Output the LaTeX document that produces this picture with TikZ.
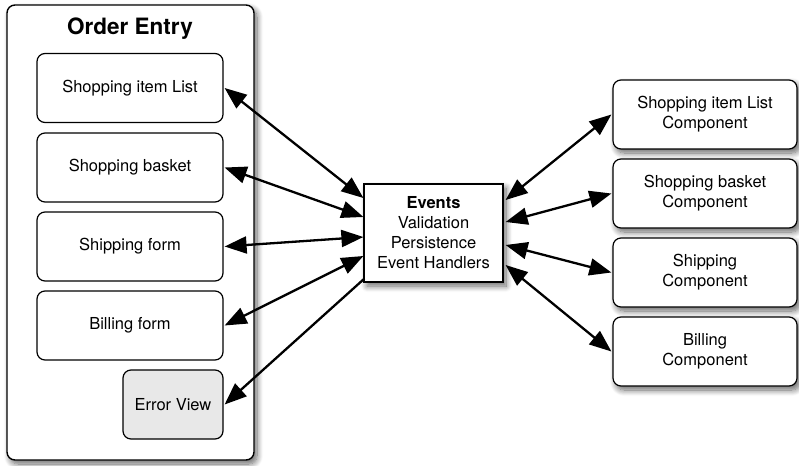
\documentclass[tikz,border=0pt]{standalone}
\usepackage{fontspec}
\setmainfont{TeX Gyre Heros}
\usetikzlibrary{arrows.meta,shadows.blur}
\begin{document}
\begin{tikzpicture}[x=1pt,y=-1pt,
  txt/.style={font=\fontsize{16.5}{20}\selectfont, align=center},
  softshadow/.style={blur shadow={shadow xshift=3pt, shadow yshift=-4pt,
    shadow blur radius=6pt, shadow blur steps=10, shadow opacity=60}},
  panel/.style={draw=black, line width=1.4pt, rounded corners=8pt, fill=white, softshadow},
  part/.style={txt, draw=black, line width=1.2pt, rounded corners=8pt, fill=white,
    minimum width=186pt, minimum height=69pt, inner sep=0pt},
  comp/.style={part, minimum width=184pt, softshadow},
  hub/.style={txt, draw=black, line width=1.2pt, fill=white,
    minimum width=139pt, minimum height=98pt, inner sep=0pt, softshadow},
  link/.style={line width=2.3pt, {Triangle[length=22pt,width=17pt]}-{Triangle[length=22pt,width=17pt]}},
  onelink/.style={line width=2.3pt, -{Triangle[length=22pt,width=17pt]}}
]
\useasboundingbox (0,0) rectangle (799,465);

% order entry panel
\node[panel, minimum width=247pt, minimum height=455pt, inner sep=0pt] (oe) at (130.5,232.5) {};
\node[font=\fontsize{22.5}{27}\selectfont\bfseries] (oet) at (130,29) {Order Entry};

\node[part] (sil) at (130,88) {Shopping item List};
\node[part] (sb)  at (130,167.5) {Shopping basket};
\node[part] (sf)  at (130,246.5) {Shipping form};
\node[part] (bf)  at (130,325.5) {Billing form};
\node[part, minimum width=100pt, fill=black!9] (erv) at (173,404.5) {Error View};

% event hub
\node[hub] (ev) at (433.5,233) {\textbf{Events}\\Validation\\Persistence\\Event Handlers};

% components
\node[comp] (c1) at (705,114.5) {Shopping item List\\Component};
\node[comp] (c2) at (705,193.5) {Shopping basket\\Component};
\node[comp] (c3) at (705,272.5) {Shipping\\Component};
\node[comp] (c4) at (705,351.5) {Billing\\Component};

% connectors on the left
\draw[link] ([xshift=1pt]sil.east) -- ([yshift=35pt]ev.west);
\draw[link] ([xshift=1pt]sb.east) -- ([yshift=16pt]ev.west);
\draw[link] ([xshift=1pt]sf.east) -- ([yshift=-4pt]ev.west);
\draw[link] ([xshift=1pt]bf.east) -- ([yshift=-23pt]ev.west);
\draw[onelink] ([xshift=1pt,yshift=4pt]ev.south west) -- ([xshift=1pt]erv.east);

% connectors on the right
\draw[link] ([xshift=2pt,yshift=33pt]ev.east) -- ([xshift=-1pt]c1.west);
\draw[link] ([xshift=2pt,yshift=11pt]ev.east) -- ([xshift=-1pt]c2.west);
\draw[link] ([xshift=2pt,yshift=-12pt]ev.east) -- ([xshift=-1pt]c3.west);
\draw[link] ([xshift=2pt,yshift=-32pt]ev.east) -- ([xshift=-1pt]c4.west);
\end{tikzpicture}
\end{document}
